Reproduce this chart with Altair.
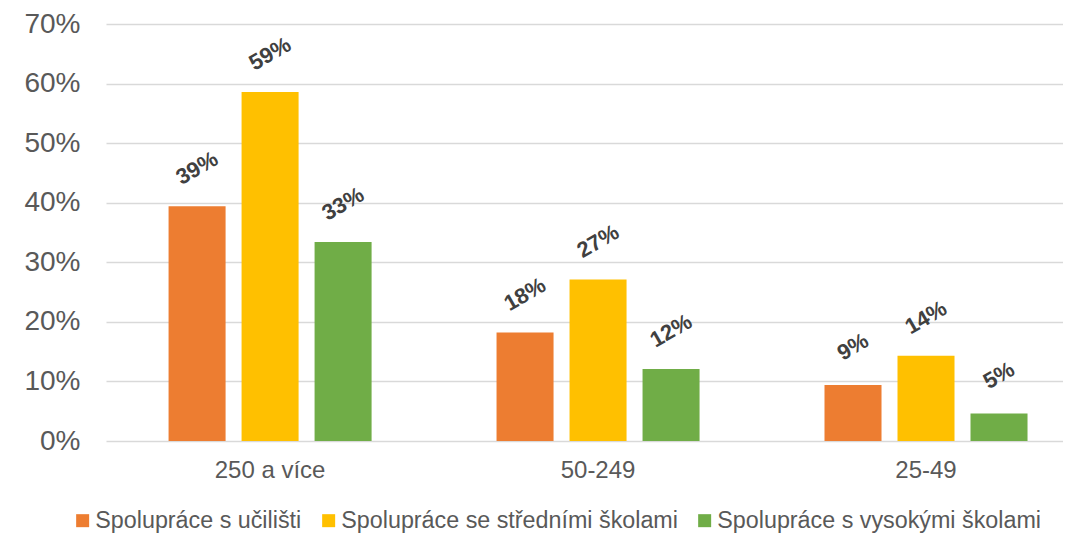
import altair as alt
import pandas as pd

categories = ["250 a více", "50-249", "25-49"]
series = [
    "Spolupráce s učilišti",
    "Spolupráce se středními školami",
    "Spolupráce s vysokými školami",
]
ucilista = [0.394, 0.182, 0.094]
stredni = [0.586, 0.271, 0.143]
vysoke = [0.334, 0.121, 0.046]
colors = ["#ED7D31", "#FFC000", "#70AD47"]
y_ticks = [0, 0.1, 0.2, 0.3, 0.4, 0.5, 0.6, 0.7]

rows = []
for s, vals in zip(series, [ucilista, stredni, vysoke]):
    for c, v in zip(categories, vals):
        rows.append({"kategorie": c, "serie": s, "hodnota": v})
df = pd.DataFrame(rows)

FONT = "Liberation Sans"

x = alt.X(
    "kategorie:N",
    sort=categories,
    scale=alt.Scale(paddingInner=0.1646, paddingOuter=0.0413, align=1),
    axis=alt.Axis(
        title=None, labelAngle=0, domain=False, ticks=False, grid=False,
        labelFontSize=24, labelColor="#595959", labelPadding=17, labelFont=FONT,
    ),
)
xo = alt.XOffset(
    "serie:N", sort=series,
    scale=alt.Scale(paddingInner=0.219, paddingOuter=0.486),
)
y = alt.Y(
    "hodnota:Q",
    scale=alt.Scale(domain=[0, 0.7], nice=False),
    axis=alt.Axis(
        title=None, format=".0%", values=y_ticks, domain=False, ticks=False,
        grid=True, gridColor="#d9d9d9", gridWidth=1.5,
        labelFontSize=28, labelColor="#595959", labelPadding=26, labelFont=FONT,
    ),
)

bars = alt.Chart(df).mark_bar().encode(
    x=x,
    xOffset=xo,
    y=y,
    color=alt.Color(
        "serie:N",
        sort=series,
        scale=alt.Scale(domain=series, range=colors),
        legend=alt.Legend(
            title=None, orient="none", legendX=-35, legendY=485,
            direction="horizontal", symbolType="square", symbolSize=169,
            symbolStrokeWidth=0, labelFontSize=23.3, labelColor="#595959",
            labelFont=FONT, columnPadding=15, labelOffset=1, labelLimit=0,
        ),
    ),
)

labels = alt.Chart(df).mark_text(
    angle=330, dx=19, dy=-33, fontWeight="bold", fontSize=22,
    color="#404040", font=FONT, align="center", baseline="middle",
).encode(
    x=x,
    xOffset=xo,
    y=y,
    text=alt.Text("hodnota:Q", format=".0%"),
)

chart = (
    alt.layer(bars, labels)
    .properties(
        width=957, height=417,
        autosize=alt.AutoSizeParams(type="none"),
        padding={"left": 98, "top": 16, "right": 0, "bottom": 100},
    )
    .configure_view(stroke=None)
)

chart.save("out.html", embed_options={"renderer": "svg", "actions": False})
